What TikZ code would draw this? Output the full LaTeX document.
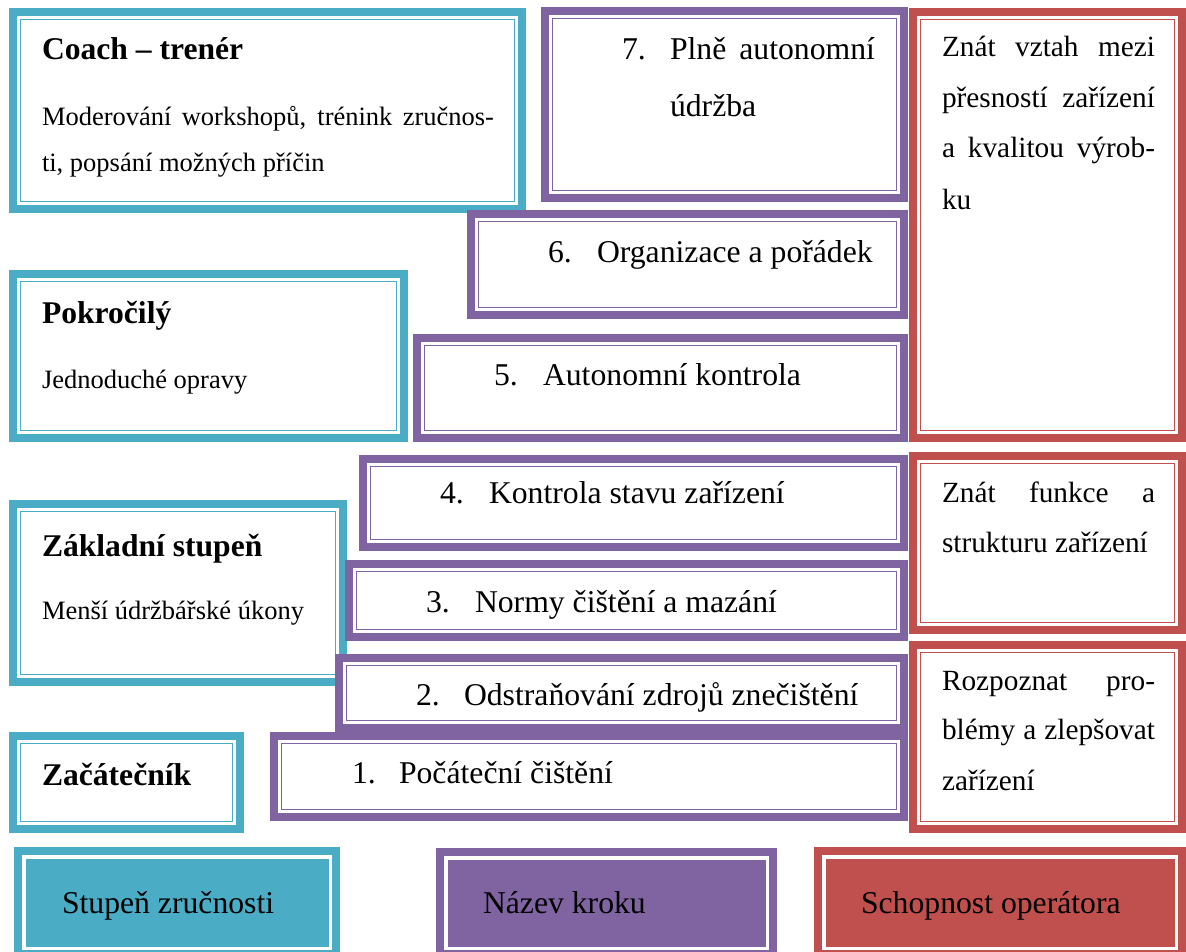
\documentclass[tikz,border=0pt]{standalone}
\usepackage{fontspec}
\setmainfont{Liberation Serif}
\definecolor{skillcol}{HTML}{4BACC6}
\definecolor{stepcol}{HTML}{8064A2}
\definecolor{abilcol}{HTML}{C0504D}

% font sizes (1pt = 1 unit of the drawing)
\newcommand\headfont{\fontsize{31.6}{38}\bfseries\selectfont}
\newcommand\bodyfont{\fontsize{26.5}{32}\selectfont}
\newcommand\stepfont{\fontsize{31.7}{38}\selectfont}
\newcommand\abilfont{\fontsize{29.3}{35}\selectfont}

% a framed box given by its outer corners: name, style, x1, y1, x2, y2
\newcommand\framedbox[6]{%
  \pgfmathsetmacro\boxwd{#5-#3-8}%
  \pgfmathsetmacro\boxht{#6-#4-8}%
  \node[#2, minimum width=\boxwd pt, minimum height=\boxht pt, anchor=north west]
    (#1) at ({#3+4},{#4+4}) {};}

\begin{document}
\begin{tikzpicture}[x=1pt,y=-1pt,
  frame/.style={draw=#1, fill=white, line width=8pt, inner sep=0pt, outer sep=0pt,
    path picture={\draw[#1, line width=1.5pt]
      ([shift={(7.5pt,-7.5pt)}]path picture bounding box.north west) rectangle
      ([shift={(-7.5pt,7.5pt)}]path picture bounding box.south east);}},
  keybox/.style={draw=#1, fill=white, line width=8pt, inner sep=0pt, outer sep=0pt,
    path picture={\fill[#1]
      ([shift={(7.5pt,-7.5pt)}]path picture bounding box.north west) rectangle
      ([shift={(-7.5pt,7.5pt)}]path picture bounding box.south east);}},
  txt/.style={inner sep=0pt, outer sep=0pt, anchor=base west, text=black},
]
\useasboundingbox (0,0) rectangle (1186,952);
\clip (0,0) rectangle (1186,952);

% skill levels
\framedbox{coach}{frame=skillcol}{9}{8}{526}{213}
\framedbox{adv}{frame=skillcol}{9}{270}{408}{442}
\framedbox{basic}{frame=skillcol}{9}{500}{347}{686}
\framedbox{novice}{frame=skillcol}{9}{732}{244}{833}

% steps
\framedbox{s7}{frame=stepcol}{541}{7}{908}{202}
\framedbox{s6}{frame=stepcol}{467}{210}{908}{319}
\framedbox{s5}{frame=stepcol}{413}{334}{908}{442}
\framedbox{s4}{frame=stepcol}{359}{455}{908}{551}
\framedbox{s3}{frame=stepcol}{345}{560}{908}{641}
\framedbox{s2}{frame=stepcol}{335}{654}{908}{732}
\framedbox{s1}{frame=stepcol}{270}{732}{908}{821}

% operator abilities
\framedbox{a3}{frame=abilcol}{909}{8}{1186}{442}
\framedbox{a2}{frame=abilcol}{909}{452}{1186}{634}
\framedbox{a1}{frame=abilcol}{909}{641}{1186}{833}

% key
\framedbox{kskill}{keybox=skillcol}{14}{847}{340}{958}
\framedbox{kstep}{keybox=stepcol}{436}{848}{777}{958}
\framedbox{kabil}{keybox=abilcol}{814}{847}{1186}{958}

% skill level texts
\node[txt] (coachh) at (42,60) {\headfont Coach – trenér};
\node[txt] (coachb1) at (42,126) {\bodyfont\makebox[452pt][s]{Moderování workshopů, trénink zručnos-}};
\node[txt] (coachb2) at (42,172) {\bodyfont ti, popsání možných příčin};
\node[txt] (advh) at (42,323) {\headfont Pokročilý};
\node[txt] (advb) at (42,388) {\bodyfont Jednoduché opravy};
\node[txt] (basich) at (42,556) {\headfont Základní stupeň};
\node[txt] (basicb) at (42,619) {\bodyfont Menší údržbářské úkony};
\node[txt] (noviceh) at (42,785) {\headfont Začátečník};

% step texts
\node[txt] (n7) at (622,60) {\stepfont 7.};
\node[txt] (t7a) at (670,60) {\stepfont\makebox[205pt][s]{Plně autonomní}};
\node[txt] (t7b) at (670,117) {\stepfont údržba};
\node[txt] (n6) at (548,262) {\stepfont 6.};
\node[txt] (t6) at (597,262) {\stepfont Organizace a pořádek};
\node[txt] (n5) at (494,385) {\stepfont 5.};
\node[txt] (t5) at (543,385) {\stepfont Autonomní kontrola};
\node[txt] (n4) at (440,503) {\stepfont 4.};
\node[txt] (t4) at (489,503) {\stepfont Kontrola stavu zařízení};
\node[txt] (n3) at (426,612) {\stepfont 3.};
\node[txt] (t3) at (475,612) {\stepfont Normy čištění a mazání};
\node[txt] (n2) at (416,705) {\stepfont 2.};
\node[txt] (t2) at (464,705) {\stepfont Odstraňování zdrojů znečištění};
\node[txt] (n1) at (352,783) {\stepfont 1.};
\node[txt] (t1) at (399,783) {\stepfont Počáteční čištění};

% ability texts
\node[txt] (a3l1) at (942,57) {\abilfont\makebox[213pt][s]{Znát vztah mezi}};
\node[txt] (a3l2) at (942,108) {\abilfont\makebox[213pt][s]{přesností zařízení}};
\node[txt] (a3l3) at (942,158) {\abilfont\makebox[213pt][s]{a kvalitou výrob-}};
\node[txt] (a3l4) at (942,210) {\abilfont ku};
\node[txt] (a2l1) at (942,502) {\abilfont\makebox[213pt][s]{Znát funkce a}};
\node[txt] (a2l2) at (942,552) {\abilfont strukturu zařízení};
\node[txt] (a1l1) at (942,690) {\abilfont\makebox[213pt][s]{Rozpoznat pro-}};
\node[txt] (a1l2) at (942,739) {\abilfont\makebox[213pt][s]{blémy a zlepšovat}};
\node[txt] (a1l3) at (942,790) {\abilfont zařízení};

% key texts
\node[txt] (kskillt) at (62,913) {\stepfont Stupeň zručnosti};
\node[txt] (kstept) at (483,913) {\stepfont Název kroku};
\node[txt] (kabilt) at (861,913) {\stepfont Schopnost operátora};
\end{tikzpicture}
\end{document}
